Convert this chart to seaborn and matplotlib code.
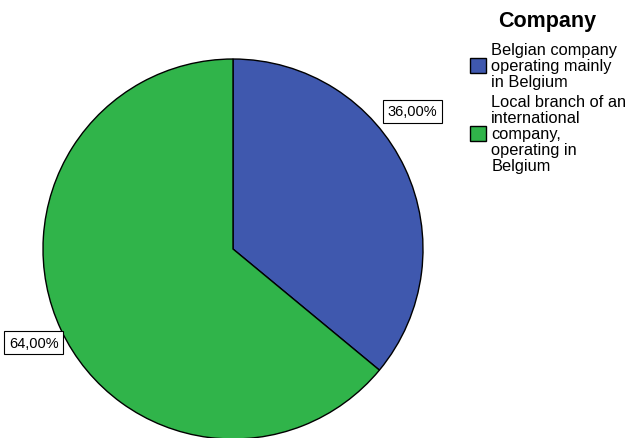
import matplotlib
matplotlib.use("Agg")
import matplotlib.pyplot as plt
import seaborn as sns
import numpy as np

sns.set_theme(style="white")
plt.rcParams["font.family"] = ["Liberation Sans", "DejaVu Sans"]
plt.rcParams["text.color"] = "black"

categories = ["Belgian company\noperating mainly\nin Belgium",
              "Local branch of an\ninternational\ncompany,\noperating in\nBelgium"]
shares = [36.0, 64.0]
colors = ["#3F58AE", "#30B44A"]
legend_title = "Company"

fig = plt.figure(figsize=(6.25, 4.39), dpi=100)
ax = fig.add_axes([0.0688, -0.0023, 0.608, 0.8656])
wedges, _ = ax.pie(shares, colors=colors, startangle=90, counterclock=False,
                   radius=1.0, wedgeprops=dict(edgecolor="black", linewidth=1.0))
ax.set_xlim(-1, 1)
ax.set_ylim(-1, 1)
ax.set_aspect("equal")
ax.axis("off")

# percentage labels placed outside the slices
label_angles = [37.5, None]
label_dist = [1.19, 1.16]
for w, s, ang, d in zip(wedges, shares, label_angles, label_dist):
    if ang is None:
        ang = (w.theta1 + w.theta2) / 2
    r = np.deg2rad(ang)
    ax.text(d * np.cos(r), d * np.sin(r), f"{s:.2f}%".replace(".", ","),
            ha="center", va="center", fontsize=10.5, color="black",
            bbox=dict(boxstyle="square,pad=0.3", facecolor="white",
                      edgecolor="black", linewidth=0.8), clip_on=False)

# legend heading
fig.text(0.875, 0.95, legend_title, ha="center", va="center",
         fontsize=15.5, fontweight="bold", color="black")

leg = fig.legend(wedges, categories, loc="upper left",
                 bbox_to_anchor=(0.752, 0.903), frameon=False, fontsize=11.8,
                 handlelength=1.0, handleheight=1.0, handletextpad=0.3,
                 labelspacing=0.3, borderaxespad=0, borderpad=0)
for t in leg.get_texts():
    t.set_linespacing(1.09)
    t.set_color("black")

fig.savefig("out.png", dpi=100)
